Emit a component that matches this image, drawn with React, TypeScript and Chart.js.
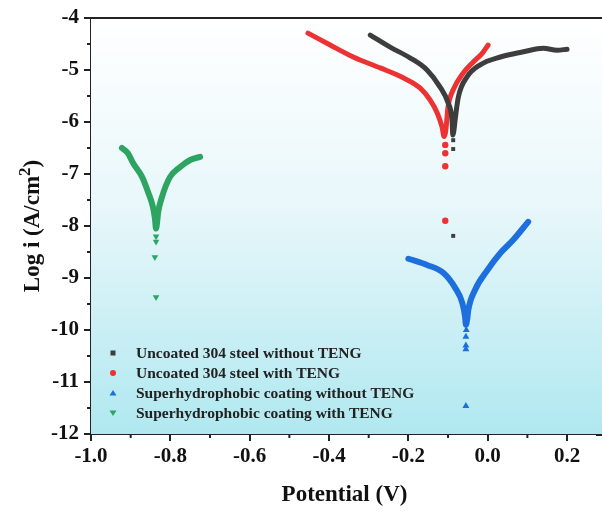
import React, { useEffect, useRef } from "react";
import { Chart, registerables } from "chart.js";

Chart.register(...registerables);

// ---- Data (Potential V, Log i) ----
const blackBandV = [-0.296, -0.246, -0.195, -0.153, -0.120, -0.100, -0.090, -0.088, -0.085, -0.082, -0.074, -0.052, -0.019, 0.032, 0.090, 0.140, 0.175, 0.200];
const blackBandLog = [-4.33, -4.56, -4.77, -5.00, -5.33, -5.63, -5.96, -6.25, -6.15, -5.95, -5.52, -5.13, -4.90, -4.75, -4.65, -4.58, -4.62, -4.60];
const blackDotV = [-0.087, -0.087, -0.087];
const blackDotLog = [-6.35, -6.52, -8.19];

const redBandV = [-0.453, -0.397, -0.339, -0.271, -0.213, -0.170, -0.145, -0.127, -0.115, -0.110, -0.106, -0.100, -0.087, -0.062, -0.037, -0.014, 0.001];
const redBandLog = [-4.29, -4.52, -4.75, -4.96, -5.15, -5.35, -5.58, -5.83, -6.10, -6.28, -6.18, -5.71, -5.38, -5.06, -4.85, -4.68, -4.52];
const redDotV = [-0.107, -0.107, -0.107, -0.107];
const redDotLog = [-6.44, -6.60, -6.85, -7.90];

const blueBandV = [-0.200, -0.153, -0.112, -0.082, -0.064, -0.057, -0.055, -0.051, -0.049, -0.032, -0.001, 0.032, 0.064, 0.102];
const blueBandLog = [-8.63, -8.75, -8.90, -9.19, -9.48, -9.75, -9.90, -9.75, -9.62, -9.23, -8.85, -8.52, -8.27, -7.92];
const blueDotV = [-0.054, -0.055, -0.055, -0.055, -0.055];
const blueDotLog = [-10.00, -10.13, -10.30, -10.37, -11.46];

const greenBandV = [-0.922, -0.907, -0.894, -0.871, -0.856, -0.844, -0.839, -0.836, -0.833, -0.831, -0.821, -0.801, -0.776, -0.750, -0.725];
const greenBandLog = [-6.50, -6.60, -6.79, -7.06, -7.35, -7.63, -7.85, -8.05, -7.90, -7.75, -7.44, -7.06, -6.87, -6.73, -6.67];
const greenDotV = [-0.836, -0.836, -0.839, -0.836];
const greenDotLog = [-8.20, -8.30, -8.60, -9.37];

const seriesNames = [
  "Uncoated 304 steel without TENG",
  "Uncoated 304 steel with TENG",
  "Superhydrophobic coating without TENG",
  "Superhydrophobic coating with TENG",
];
const seriesColors = ["#3d3d3d", "#ec3232", "#1c6fdc", "#2ea463"];
const seriesMarkers = ["rect", "circle", "triangle", "triangle"];
const seriesRotation = [0, 0, 0, 180];

const xMinorTicks = [-0.9, -0.7, -0.5, -0.3, -0.1, 0.1];
const yMinorTicks = [-4.5, -5.5, -6.5, -7.5, -8.5, -9.5, -10.5, -11.5];

const FONT = "'Liberation Serif', 'Times New Roman', serif";

const pts = (xs: number[], ys: number[]) => xs.map((x, i) => ({ x, y: ys[i] }));

const bgPlugin = {
  id: "bgGradient",
  beforeDatasetsDraw(chart: any) {
    const { ctx, chartArea: a } = chart;
    const g = ctx.createLinearGradient(0, a.top, 0, a.bottom);
    g.addColorStop(0, "#ffffff");
    g.addColorStop(0.45, "#e8f7fa");
    g.addColorStop(1, "#b0e8f0");
    ctx.save();
    ctx.fillStyle = g;
    ctx.fillRect(a.left, a.top, chart.width - a.left, a.bottom - a.top);
    ctx.restore();
  },
};

const framePlugin = {
  id: "frameAndMinor",
  afterDraw(chart: any) {
    const { ctx, chartArea: a, scales } = chart;
    ctx.save();
    ctx.strokeStyle = "#222";
    ctx.lineWidth = 2;
    ctx.beginPath();
    ctx.moveTo(a.left - 1, a.top);
    ctx.lineTo(chart.width, a.top);
    ctx.moveTo(a.right - 2, a.bottom + 1);
    ctx.lineTo(chart.width, a.bottom + 1);
    ctx.stroke();
    ctx.beginPath();
    xMinorTicks.forEach((v) => {
      const px = scales.x.getPixelForValue(v);
      ctx.moveTo(px, a.bottom);
      ctx.lineTo(px, a.bottom + 4);
    });
    yMinorTicks.forEach((v) => {
      const py = scales.y.getPixelForValue(v);
      ctx.moveTo(a.left, py);
      ctx.lineTo(a.left - 4, py);
    });
    ctx.stroke();

    // y axis title with superscript
    ctx.save();
    ctx.fillStyle = "#111";
    ctx.translate(33, (a.top + a.bottom) / 2);
    ctx.rotate(-Math.PI / 2);
    ctx.textBaseline = "middle";
    ctx.textAlign = "left";
    const main = "Log i (A/cm";
    const sup = "2";
    const close = ")";
    const f1 = `bold 23px ${FONT}`;
    const f2 = `bold 17px ${FONT}`;
    ctx.font = f1;
    const w1 = ctx.measureText(main).width;
    const w3 = ctx.measureText(close).width;
    ctx.font = f2;
    const w2 = ctx.measureText(sup).width;
    const total = w1 + w2 + w3;
    let x = -total / 2;
    ctx.font = f1;
    ctx.fillText(main, x, 0);
    x += w1;
    ctx.font = f2;
    ctx.fillText(sup, x, -7);
    x += w2;
    ctx.font = f1;
    ctx.fillText(close, x, 0);
    ctx.restore();

    // legend
    const lx = 113;
    const tx = 136;
    const y0 = 353;
    const dy = 20;
    ctx.font = `bold 15.5px ${FONT}`;
    ctx.textBaseline = "middle";
    ctx.textAlign = "left";
    seriesNames.forEach((name, i) => {
      const y = y0 + i * dy;
      ctx.fillStyle = seriesColors[i];
      ctx.beginPath();
      if (seriesMarkers[i] === "rect") {
        ctx.fillRect(lx - 2.5, y - 2.5, 5, 5);
      } else if (seriesMarkers[i] === "circle") {
        ctx.arc(lx, y, 3, 0, Math.PI * 2);
        ctx.fill();
      } else if (seriesRotation[i] === 0) {
        ctx.moveTo(lx, y - 3);
        ctx.lineTo(lx + 3.5, y + 2.5);
        ctx.lineTo(lx - 3.5, y + 2.5);
        ctx.closePath();
        ctx.fill();
      } else {
        ctx.moveTo(lx, y + 3);
        ctx.lineTo(lx + 3.5, y - 2.5);
        ctx.lineTo(lx - 3.5, y - 2.5);
        ctx.closePath();
        ctx.fill();
      }
      ctx.fillStyle = "#222";
      ctx.fillText(name, tx, y + 1);
    });
    ctx.restore();
  },
};

export default function App() {
  const ref = useRef<HTMLCanvasElement>(null);

  useEffect(() => {
    if (!ref.current) return;
    const bands = [
      pts(blackBandV, blackBandLog),
      pts(redBandV, redBandLog),
      pts(blueBandV, blueBandLog),
      pts(greenBandV, greenBandLog),
    ];
    const dots = [
      pts(blackDotV, blackDotLog),
      pts(redDotV, redDotLog),
      pts(blueDotV, blueDotLog),
      pts(greenDotV, greenDotLog),
    ];
    const widths = [5, 5, 6, 6];
    const dotRadius = [2.8, 3.2, 4, 3.8];
    const datasets: any[] = [];
    seriesNames.forEach((name, i) => {
      datasets.push({
        label: name,
        data: bands[i],
        showLine: true,
        borderColor: seriesColors[i],
        backgroundColor: seriesColors[i],
        borderWidth: widths[i],
        borderCapStyle: "round",
        borderJoinStyle: "round",
        pointRadius: 0,
        cubicInterpolationMode: "monotone",
      });
      datasets.push({
        label: name + " (points)",
        data: dots[i],
        showLine: false,
        pointStyle: seriesMarkers[i],
        rotation: seriesRotation[i],
        pointRadius: dotRadius[i],
        pointBackgroundColor: seriesColors[i],
        pointBorderColor: seriesColors[i],
        pointBorderWidth: 0,
      });
    });

    Chart.defaults.font.family = FONT;
    const chart = new Chart(ref.current, {
      type: "scatter",
      data: { datasets },
      plugins: [bgPlugin, framePlugin],
      options: {
        animation: false,
        responsive: false,
        layout: { padding: { top: 18, right: 0, left: 0, bottom: 0 } },
        plugins: { legend: { display: false }, tooltip: { enabled: false } },
        scales: {
          x: {
            type: "linear",
            min: -1.0,
            max: 0.278,
            border: { display: true, color: "#222", width: 2 },
            grid: { drawOnChartArea: false, drawTicks: true, tickLength: 7, color: "#222", lineWidth: 2 },
            ticks: {
              stepSize: 0.2,
              includeBounds: false,
              color: "#111",
              padding: 3,
              font: { size: 21, weight: "bold", family: FONT },
              callback: (v: any) => (Math.abs(Number(v)) < 1e-9 ? "0.0" : Number(v).toFixed(1)),
            },
            title: {
              display: true,
              text: "Potential (V)",
              color: "#111",
              font: { size: 23, weight: "bold", family: FONT },
              padding: { top: 0, bottom: 4 },
            },
            afterFit: (s: any) => {
              s.height = 79;
              s.paddingLeft = 0;
              s.paddingRight = 0;
            },
          },
          y: {
            type: "linear",
            min: -12,
            max: -4,
            border: { display: true, color: "#222", width: 2 },
            grid: { drawOnChartArea: false, drawTicks: true, tickLength: 7, color: "#222", lineWidth: 2 },
            ticks: {
              stepSize: 1,
              color: "#111",
              padding: 5,
              font: { size: 21, weight: "bold", family: FONT },
            },
            title: { display: false },
            afterFit: (s: any) => {
              s.width = 91;
              s.paddingTop = 0;
              s.paddingBottom = 0;
            },
          },
        },
      } as any,
    });
    return () => chart.destroy();
  }, []);

  return (
    <div style={{ position: "absolute", left: 0, top: 0, width: 602, height: 513, background: "#fff" }}>
      <canvas ref={ref} width={602} height={513} style={{ display: "block" }} />
    </div>
  );
}
